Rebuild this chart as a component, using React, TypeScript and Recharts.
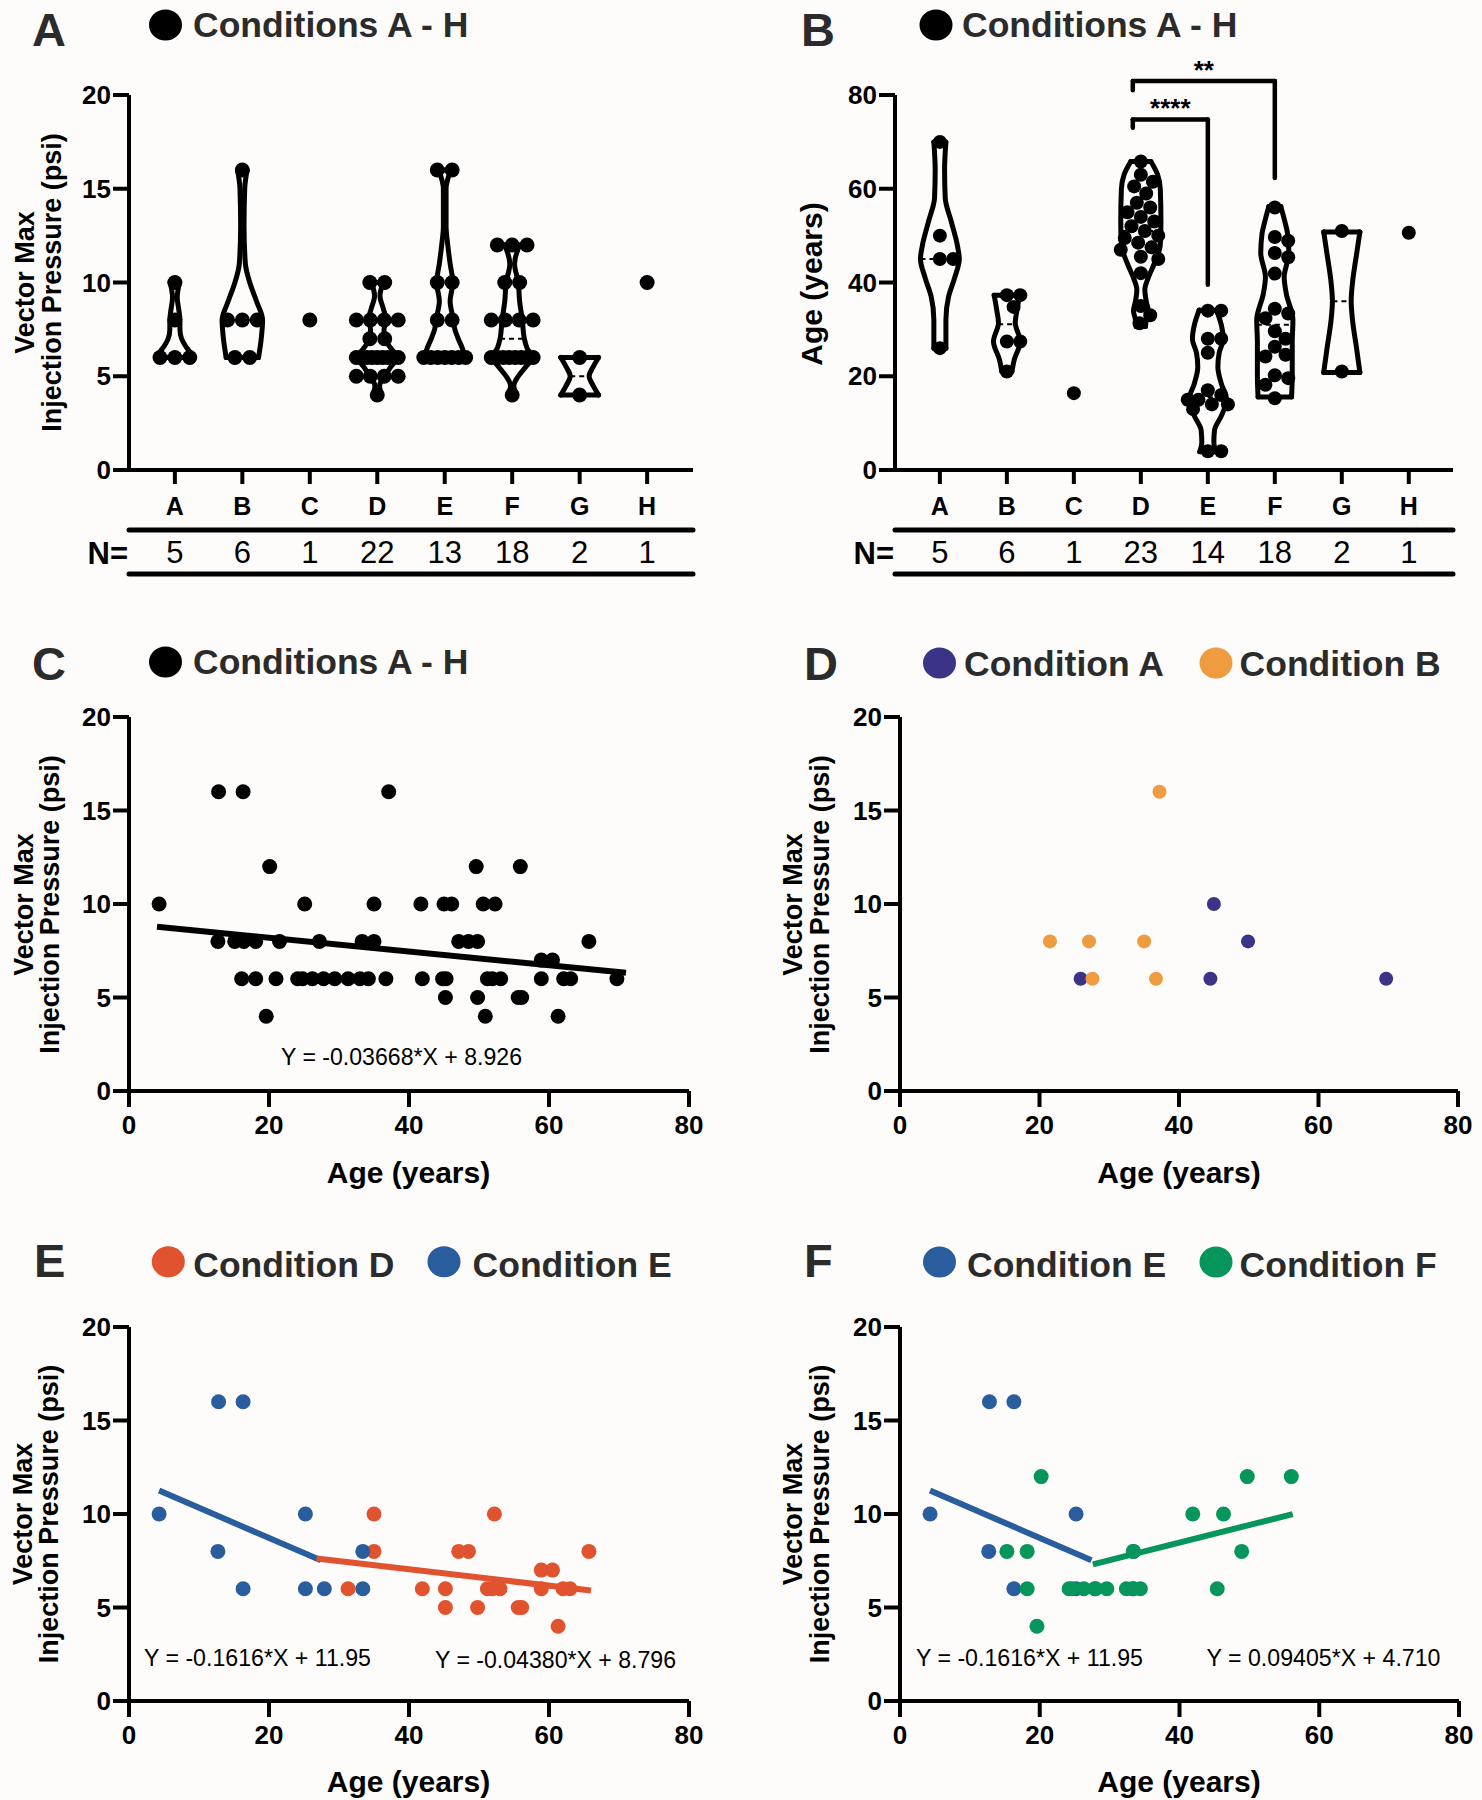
import React from 'react';
import { ComposedChart, XAxis, YAxis, Line, Scatter, ReferenceLine } from 'recharts';

const FONT = '"Liberation Sans", Arial, Helvetica, sans-serif';
const INK = '#000';
const LABEL_INK = '#2b2b2b';
const COLORS = { A: '#3b3486', B: '#ef9b40', D: '#e0532e', E: '#2a5d9e', F: '#06955a' };

// ---------- data ----------
const groups = ['A', 'B', 'C', 'D', 'E', 'F', 'G', 'H'];
const nPressure = [5, 6, 1, 22, 13, 18, 2, 1];
const nAge = [5, 6, 1, 23, 14, 18, 2, 1];

// panel A – vector max injection pressure (psi) per condition
const pressureByGroup: number[][] = [
  [10, 8, 6, 6, 6],
  [16, 8, 8, 8, 6, 6],
  [8],
  [10, 10, 8, 8, 8, 8, 7, 7, 6, 6, 6, 6, 6, 6, 6, 6, 6, 5, 5, 5, 5, 4],
  [16, 16, 10, 10, 8, 8, 6, 6, 6, 6, 6, 6, 6],
  [12, 12, 12, 10, 10, 8, 8, 8, 8, 6, 6, 6, 6, 6, 6, 6, 6, 4],
  [6, 4],
  [10],
];

// panel B – age (years) per condition
const ageByGroup: number[][] = [
  [70, 50, 45, 45, 26],
  [37.3, 37.3, 34.8, 27.4, 27.4, 21],
  [16.4],
  [65.8, 63, 61.5, 60.5, 59, 57, 56, 55, 54, 53, 52, 51, 50, 49.5, 48.5, 47.5, 47, 45.5, 45, 42, 35, 33, 31.3],
  [34, 34, 28, 28, 25, 17, 16, 15, 15, 14, 14, 13, 4, 4],
  [56, 49.7, 48.9, 46.3, 45.4, 41.9, 34.4, 33.4, 32.4, 29.6, 28, 26.3, 24.6, 24.2, 20.2, 19.6, 18.2, 15.3],
  [51, 21],
  [50.6],
];

// violin outlines: [value, half width in category units], bottom -> top
const pressureViolins: (number[][] | null)[] = [
  [[6, 0.26], [6.3, 0.22], [6.6, 0.16], [7, 0.1], [7.5, 0.075], [8, 0.075], [8.5, 0.06], [9.2, 0.035], [10, 0.07]],
  [[6, 0.24], [7, 0.28], [8, 0.3], [9, 0.21], [10, 0.11], [11, 0.045], [13, 0.025], [15, 0.035], [16, 0.07]],
  null,
  [[4, 0.06], [4.5, 0.035], [5, 0.11], [5.5, 0.2], [6, 0.29], [6.5, 0.2], [7, 0.11], [7.5, 0.1], [8, 0.13], [8.6, 0.09], [9.3, 0.04], [10, 0.09]],
  [[6, 0.3], [6.5, 0.26], [7, 0.2], [7.5, 0.15], [8, 0.13], [9, 0.08], [10, 0.12], [11, 0.08], [12, 0.045], [13, 0.02], [15, 0.02], [16, 0.09]],
  [[4, 0.06], [4.5, 0.025], [5, 0.09], [5.5, 0.2], [6, 0.3], [6.5, 0.22], [7, 0.18], [8, 0.15], [9, 0.11], [10, 0.09], [11, 0.035], [12, 0.11]],
  [[4, 0.28], [4.5, 0.2], [5, 0.14], [5.5, 0.2], [6, 0.28]],
  null,
];

const ageViolins: (number[][] | null)[] = [
  [[26, 0.09], [32, 0.09], [37, 0.13], [41, 0.22], [45, 0.29], [48, 0.26], [53, 0.17], [58, 0.08], [64, 0.07], [70, 0.09]],
  [[21, 0.075], [23.5, 0.11], [27.4, 0.2], [31.4, 0.125], [34, 0.15], [37.3, 0.19]],
  null,
  [[30.6, 0.07], [32, 0.08], [34, 0.11], [36, 0.08], [38.5, 0.06], [41, 0.11], [44, 0.2], [48, 0.29], [53, 0.3], [60, 0.29], [63, 0.25], [65.8, 0.15]],
  [[3.9, 0.12], [6, 0.09], [8.5, 0.1], [11.5, 0.2], [15, 0.28], [18.5, 0.2], [22, 0.15], [25, 0.17], [28, 0.23], [31, 0.2], [34.1, 0.13]],
  [[15.6, 0.25], [19.9, 0.26], [27.1, 0.26], [32, 0.27], [37.7, 0.17], [41.2, 0.14], [46.3, 0.21], [50.5, 0.19], [53, 0.15], [56.2, 0.09]],
  [[20.8, 0.27], [26, 0.22], [32, 0.16], [36, 0.14], [40, 0.16], [46, 0.22], [50.8, 0.27]],
  null,
];

// significance brackets on panel B (category units / years)
const brackets = [
  { from: 3.88, to: 6, y: 83, leftEnd: 81, rightEnd: 62.3, label: '**' },
  { from: 3.88, to: 5, y: 74.8, leftEnd: 73, rightEnd: 39.5, label: '****' },
];

// scatter panels: [age, pressure]
const allPatients: number[][] = [
  [12.8, 16], [16.3, 16], [37.1, 16],
  [20.1, 12], [49.6, 12], [55.9, 12],
  [4.3, 10], [25.1, 10], [35.0, 10], [41.7, 10], [45.0, 10], [46.1, 10], [50.6, 10], [52.3, 10],
  [12.7, 8], [15.1, 8], [16.4, 8], [18.1, 8], [21.5, 8], [27.2, 8], [33.3, 8], [35.0, 8], [47.1, 8], [48.5, 8], [49.8, 8], [65.7, 8],
  [58.9, 7], [60.5, 7],
  [16.1, 6], [18.1, 6], [21.0, 6], [24.1, 6], [24.8, 6], [26.2, 6], [27.8, 6], [29.4, 6], [31.3, 6], [33.0, 6], [34.2, 6],
  [36.7, 6], [41.9, 6], [44.8, 6], [45.3, 6], [51.2, 6], [51.9, 6], [53.1, 6], [58.9, 6], [62.1, 6], [63.1, 6], [69.7, 6],
  [45.2, 5], [49.8, 5], [55.6, 5], [56.1, 5],
  [19.6, 4], [50.9, 4], [61.3, 4],
];
const conditionA: number[][] = [[25.9, 6], [45, 10], [44.5, 6], [49.9, 8], [69.7, 6]];
const conditionB: number[][] = [[21.5, 8], [27.1, 8], [35, 8], [37.2, 16], [27.6, 6], [36.7, 6]];
const conditionD: number[][] = [
  [31.3, 6], [35, 10], [35, 8], [41.9, 6], [45.2, 6], [45.2, 5], [47.1, 8], [48.5, 8], [49.8, 5], [51.2, 6], [52.2, 10],
  [51.9, 6], [53, 6], [55.6, 5], [56.1, 5], [58.9, 7], [58.9, 6], [60.5, 7], [61.3, 4], [62, 6], [63, 6], [65.7, 8],
];
const conditionE: number[][] = [
  [4.3, 10], [12.8, 16], [16.3, 16], [12.7, 8], [16.3, 6], [25.2, 10], [25.2, 6], [27.9, 6], [33.4, 8], [33.4, 6],
];
const conditionF: number[][] = [
  [15.3, 8], [18.2, 8], [18.2, 6], [20.2, 12], [19.6, 4], [24.2, 6], [24.6, 6], [26.3, 6], [28.0, 6], [29.6, 6],
  [32.4, 6], [33.4, 8], [33.3, 6], [34.4, 6], [41.9, 10], [46.3, 10], [45.4, 6], [48.9, 8], [49.7, 12], [56.0, 12],
];

// linear fits printed on the figure, with the age range they span
const fitAll = { slope: -0.03668, intercept: 8.926, from: 4, to: 71 };
const fitD = { slope: -0.0438, intercept: 8.796, from: 26.8, to: 66 };
const fitE = { slope: -0.1616, intercept: 11.95, from: 4.3, to: 27.4 };
const fitF = { slope: 0.09405, intercept: 4.71, from: 27.6, to: 56.2 };

// ---------- helpers ----------
type Pt = { x: number; y: number | null };
type Fit = { slope: number; intercept: number; from: number; to: number };

const axisStroke = { stroke: INK, strokeWidth: 4 };
const numTick = { fill: INK, fontSize: 26, fontWeight: 700, fontFamily: FONT };

const dotShape = (r: number, color: string) => (p: any) => <circle cx={p.cx} cy={p.cy} r={r} fill={color} />;

// category letter with the N= row underneath
const groupTick = (counts: number[]) => (p: any) => {
  const i = Math.round(p.payload.value) - 1;
  return (
    <g>
      <text x={p.x} y={p.y} dy="0.71em" textAnchor="middle" fontSize={25} fontWeight={700} fontFamily={FONT} fill={INK}>
        {groups[i]}
      </text>
      <text x={p.x} y={p.y + 44} dy="0.71em" textAnchor="middle" fontSize={31} fontFamily={FONT} fill={INK}>
        {counts[i]}
      </text>
    </g>
  );
};

function spreadTies(values: number[], center: number) {
  const counts = new Map<number, number>();
  values.forEach((v) => counts.set(v, (counts.get(v) || 0) + 1));
  const seen = new Map<number, number>();
  return values.map((v) => {
    const k = counts.get(v)!;
    const j = seen.get(v) || 0;
    seen.set(v, j + 1);
    const s = k > 1 ? Math.min(0.22, 0.62 / (k - 1)) : 0;
    return { x: center + (j - (k - 1) / 2) * s, y: v };
  });
}

// simple beeswarm so overlapping ages spread sideways
function beeswarm(values: number[], center: number) {
  const pxX = 67, pxY = 375 / 80, diam = 13, cap = 0.3;
  const cands: number[] = [0];
  for (let o = 0.02; o <= cap + 1e-9; o += 0.02) cands.push(o, -o);
  const placed: { x: number; y: number }[] = [];
  [...values].sort((a, b) => b - a).forEach((v) => {
    let best = 0;
    let bestScore = -1;
    for (const o of cands) {
      let minD = Infinity;
      for (const p of placed) minD = Math.min(minD, Math.hypot((p.x - o) * pxX, (p.y - v) * pxY));
      if (minD >= diam) { best = o; break; }
      if (minD > bestScore) { bestScore = minD; best = o; }
    }
    placed.push({ x: best, y: v });
  });
  return placed.map((p) => ({ x: center + p.x, y: p.y }));
}

function widthAt(profile: number[][], v: number) {
  for (let i = 1; i < profile.length; i++) {
    const [v0, w0] = profile[i - 1];
    const [v1, w1] = profile[i];
    if (v >= v0 && v <= v1) return w0 + ((w1 - w0) * (v - v0)) / (v1 - v0);
  }
  return profile[0][1];
}

function median(values: number[]) {
  const s = [...values].sort((a, b) => a - b);
  const m = Math.floor(s.length / 2);
  return s.length % 2 ? s[m] : (s[m - 1] + s[m]) / 2;
}

const fitLine = (f: Fit): Pt[] => [
  { x: f.from, y: f.slope * f.from + f.intercept },
  { x: f.to, y: f.slope * f.to + f.intercept },
];

// ---------- violin panels ----------
type ViolinProps = {
  left: number;
  width: number;
  yAxisWidth: number;
  xDomain: [number, number];
  yMax: number;
  yTicks: number[];
  values: number[][];
  profiles: (number[][] | null)[];
  counts: number[];
  dotR: number;
  layout: (v: number[], c: number) => { x: number; y: number }[];
  withBrackets?: boolean;
};

function ViolinPanel(props: ViolinProps) {
  const { left, width, yAxisWidth, xDomain, yMax, yTicks, values, profiles, counts, dotR, layout, withBrackets } = props;
  const items: React.ReactNode[] = [];
  const lineBase = { dataKey: 'y', dot: false, activeDot: false, isAnimationActive: false, stroke: INK };

  groups.forEach((g, i) => {
    const c = i + 1;
    const prof = profiles[i];
    if (prof) {
      const right: Pt[] = prof.map(([v, w]) => ({ x: c + w, y: v }));
      const lft: Pt[] = prof.map(([v, w]) => ({ x: c - w, y: v }));
      const [v0, w0] = prof[0];
      const [v1, w1] = prof[prof.length - 1];
      const caps: Pt[] = [
        { x: c - w0, y: v0 }, { x: c + w0, y: v0 }, { x: c, y: null },
        { x: c - w1, y: v1 }, { x: c + w1, y: v1 },
      ];
      const m = median(values[i]);
      const mw = widthAt(prof, m);
      items.push(<Line key={`r${g}`} {...lineBase} data={right} type="monotoneY" strokeWidth={5} strokeLinecap="round" />);
      items.push(<Line key={`l${g}`} {...lineBase} data={lft} type="monotoneY" strokeWidth={5} strokeLinecap="round" />);
      items.push(<Line key={`c${g}`} {...lineBase} data={caps} type="linear" strokeWidth={5} strokeLinecap="round" />);
      items.push(
        <Line key={`m${g}`} {...lineBase} data={[{ x: c - mw, y: m }, { x: c + mw, y: m }]} type="linear" strokeWidth={2} strokeDasharray="5 4" />
      );
    }
    items.push(<Scatter key={`p${g}`} data={layout(values[i], c)} shape={dotShape(dotR, INK)} isAnimationActive={false} />);
  });

  return (
    <div style={{ position: 'absolute', left, top: 40 }}>
      <ComposedChart width={width} height={544} margin={{ top: 55, right: 10, bottom: 0, left: 0 }}>
        <XAxis
          type="number" dataKey="x" domain={xDomain} allowDataOverflow ticks={[1, 2, 3, 4, 5, 6, 7, 8]}
          height={60} tickSize={14} tickMargin={13} axisLine={axisStroke} tickLine={axisStroke}
          tick={groupTick(counts)} interval={0}
        />
        <XAxis
          xAxisId="n" type="number" domain={xDomain} allowDataOverflow height={44} tick={false} tickLine={false}
          axisLine={{ stroke: INK, strokeWidth: 5, strokeLinecap: 'round' }}
        />
        <XAxis
          xAxisId="r" type="number" domain={xDomain} allowDataOverflow height={10} tick={false} tickLine={false}
          axisLine={{ stroke: INK, strokeWidth: 5, strokeLinecap: 'round' }}
        />
        <YAxis
          type="number" dataKey="y" domain={[0, yMax]} allowDataOverflow ticks={yTicks} width={yAxisWidth}
          tickSize={16} tickMargin={2} axisLine={axisStroke} tickLine={axisStroke} tick={numTick} interval={0}
        />
        {items}
        {withBrackets &&
          brackets.flatMap((b) => [
            <ReferenceLine
              key={`h${b.label}`} segment={[{ x: b.from, y: b.y }, { x: b.to, y: b.y }]} ifOverflow="visible"
              stroke={INK} strokeWidth={4.5} strokeLinecap="round"
              label={{ value: b.label, position: 'top', offset: 2, fill: INK, fontSize: 26, fontWeight: 700, fontFamily: FONT }}
            />,
            <ReferenceLine
              key={`a${b.label}`} segment={[{ x: b.from, y: b.y }, { x: b.from, y: b.leftEnd }]} ifOverflow="visible"
              stroke={INK} strokeWidth={4.5} strokeLinecap="round"
            />,
            <ReferenceLine
              key={`b${b.label}`} segment={[{ x: b.to, y: b.y }, { x: b.to, y: b.rightEnd }]} ifOverflow="visible"
              stroke={INK} strokeWidth={4.5} strokeLinecap="round"
            />,
          ])}
      </ComposedChart>
    </div>
  );
}

// ---------- scatter panels ----------
type Series = { points: number[][]; color: string; r: number };

function ScatterPanel({ left, top, width, series, fits }: {
  left: number; top: number; width: number; series: Series[]; fits: { fit: Fit; color: string }[];
}) {
  return (
    <div style={{ position: 'absolute', left, top }}>
      <ComposedChart width={width} height={451} margin={{ top: 17, right: 30, bottom: 0, left: 0 }}>
        <XAxis
          type="number" dataKey="x" domain={[0, 80]} allowDataOverflow ticks={[0, 20, 40, 60, 80]} height={60}
          tickSize={16} tickMargin={9} axisLine={axisStroke} tickLine={axisStroke} tick={numTick} interval={0}
        />
        <YAxis
          type="number" dataKey="y" domain={[0, 20]} allowDataOverflow ticks={[0, 5, 10, 15, 20]} width={129}
          tickSize={16} tickMargin={2} axisLine={axisStroke} tickLine={axisStroke} tick={numTick} interval={0}
        />
        {series.map((s, i) => (
          <Scatter
            key={`s${i}`} data={s.points.map(([x, y]) => ({ x, y }))} shape={dotShape(s.r, s.color)}
            isAnimationActive={false}
          />
        ))}
        {fits.map((f, i) => (
          <Line
            key={`f${i}`} data={fitLine(f.fit)} dataKey="y" type="linear" stroke={f.color} strokeWidth={6}
            dot={false} activeDot={false} isAnimationActive={false}
          />
        ))}
      </ComposedChart>
    </div>
  );
}

// ---------- text overlay ----------
const panelLetters = [
  { t: 'A', x: 32, y: 46 }, { t: 'B', x: 801, y: 46 },
  { t: 'C', x: 32, y: 680 }, { t: 'D', x: 804, y: 680 },
  { t: 'E', x: 34, y: 1277 }, { t: 'F', x: 804, y: 1277 },
];

const legendItems = [
  { cx: 165.5, cy: 25, color: INK, text: 'Conditions A - H', tx: 193, ty: 36.5 },
  { cx: 936, cy: 25, color: INK, text: 'Conditions A - H', tx: 962, ty: 36.5 },
  { cx: 165.5, cy: 662, color: INK, text: 'Conditions A - H', tx: 193, ty: 674 },
  { cx: 939.5, cy: 663, color: COLORS.A, text: 'Condition A', tx: 964, ty: 675.5 },
  { cx: 1216, cy: 663, color: COLORS.B, text: 'Condition B', tx: 1239.6, ty: 675.5 },
  { cx: 168.3, cy: 1261.7, color: COLORS.D, text: 'Condition D', tx: 193.3, ty: 1276.7 },
  { cx: 444, cy: 1261.7, color: COLORS.E, text: 'Condition E', tx: 472.6, ty: 1276.7 },
  { cx: 939.5, cy: 1262, color: COLORS.E, text: 'Condition E', tx: 967, ty: 1277 },
  { cx: 1216, cy: 1262, color: COLORS.F, text: 'Condition F', tx: 1239.6, ty: 1277 },
];

const yTitles = [
  { x: 34, y: 282.5, t: 'Vector Max', s: 27 }, { x: 61, y: 282.5, t: 'Injection Pressure (psi)', s: 27 },
  { x: 822, y: 284, t: 'Age (years)', s: 30 },
  { x: 33, y: 904.5, t: 'Vector Max', s: 27 }, { x: 59, y: 904.5, t: 'Injection Pressure (psi)', s: 27 },
  { x: 802, y: 904.5, t: 'Vector Max', s: 27 }, { x: 829, y: 904.5, t: 'Injection Pressure (psi)', s: 27 },
  { x: 32, y: 1514, t: 'Vector Max', s: 27 }, { x: 58, y: 1514, t: 'Injection Pressure (psi)', s: 27 },
  { x: 802, y: 1514, t: 'Vector Max', s: 27 }, { x: 829, y: 1514, t: 'Injection Pressure (psi)', s: 27 },
];

const xTitles = [
  { x: 408.5, y: 1182.5 }, { x: 1179, y: 1182.5 }, { x: 408.5, y: 1792 }, { x: 1179, y: 1792 },
];

const equations = [
  { t: 'Y = -0.03668*X + 8.926', x: 281, y: 1064.6, w: 241 },
  { t: 'Y = -0.1616*X + 11.95', x: 144, y: 1666, w: 227 },
  { t: 'Y = -0.04380*X + 8.796', x: 435, y: 1667.5, w: 241 },
  { t: 'Y = -0.1616*X + 11.95', x: 916, y: 1666, w: 227 },
  { t: 'Y = 0.09405*X + 4.710', x: 1206.5, y: 1666, w: 234 },
];

function Overlay() {
  return (
    <svg width={1482} height={1800} style={{ position: 'absolute', left: 0, top: 0, pointerEvents: 'none' }} fontFamily={FONT}>
      {panelLetters.map((p) => (
        <text key={p.t} x={p.x} y={p.y} fontSize={47} fontWeight={700} fill={LABEL_INK}>{p.t}</text>
      ))}
      {legendItems.map((l, i) => (
        <g key={`lg${i}`}>
          <ellipse cx={l.cx} cy={l.cy} rx={16.5} ry={15.5} fill={l.color} />
          <text x={l.tx} y={l.ty} fontSize={35.5} fontWeight={700} fill={LABEL_INK}>{l.text}</text>
        </g>
      ))}
      {yTitles.map((t, i) => (
        <text key={`yt${i}`} transform={`translate(${t.x},${t.y}) rotate(-90)`} textAnchor="middle" fontSize={t.s} fontWeight={700} fill={INK}>
          {t.t}
        </text>
      ))}
      {xTitles.map((t, i) => (
        <text key={`xt${i}`} x={t.x} y={t.y} textAnchor="middle" fontSize={30} fontWeight={700} fill={INK}>Age (years)</text>
      ))}
      {equations.map((e, i) => (
        <text key={`eq${i}`} x={e.x} y={e.y} fontSize={24} textLength={e.w} lengthAdjust="spacingAndGlyphs" fill={INK}>{e.t}</text>
      ))}
      <text x={128} y={564} textAnchor="end" fontSize={31} fontWeight={700} fill={INK}>N=</text>
      <text x={894} y={564} textAnchor="end" fontSize={31} fontWeight={700} fill={INK}>N=</text>
    </svg>
  );
}

export default function App() {
  return (
    <div style={{ position: 'absolute', left: 0, top: 0, width: 1482, height: 1800, background: '#fdfcfa', overflow: 'hidden', fontFamily: FONT }}>
      <ViolinPanel
        left={0} width={703} yAxisWidth={129} xDomain={[0.32, 8.68]} yMax={20} yTicks={[0, 5, 10, 15, 20]}
        values={pressureByGroup} profiles={pressureViolins} counts={nPressure} dotR={7.5} layout={spreadTies}
      />
      <ViolinPanel
        left={760} width={703} yAxisWidth={135} xDomain={[0.33, 8.66]} yMax={80} yTicks={[0, 20, 40, 60, 80]}
        values={ageByGroup} profiles={ageViolins} counts={nAge} dotR={7} layout={beeswarm} withBrackets
      />
      <ScatterPanel left={0} top={700} width={719} series={[{ points: allPatients, color: INK, r: 7.5 }]} fits={[{ fit: fitAll, color: INK }]} />
      <ScatterPanel
        left={771} top={700} width={717}
        series={[{ points: conditionA, color: COLORS.A, r: 7 }, { points: conditionB, color: COLORS.B, r: 7 }]} fits={[]}
      />
      <ScatterPanel
        left={0} top={1310} width={719}
        series={[{ points: conditionD, color: COLORS.D, r: 7.5 }, { points: conditionE, color: COLORS.E, r: 7.5 }]}
        fits={[{ fit: fitE, color: COLORS.E }, { fit: fitD, color: COLORS.D }]}
      />
      <ScatterPanel
        left={771} top={1310} width={718}
        series={[{ points: conditionE, color: COLORS.E, r: 7.5 }, { points: conditionF, color: COLORS.F, r: 7.5 }]}
        fits={[{ fit: fitE, color: COLORS.E }, { fit: fitF, color: COLORS.F }]}
      />
      <Overlay />
    </div>
  );
}
